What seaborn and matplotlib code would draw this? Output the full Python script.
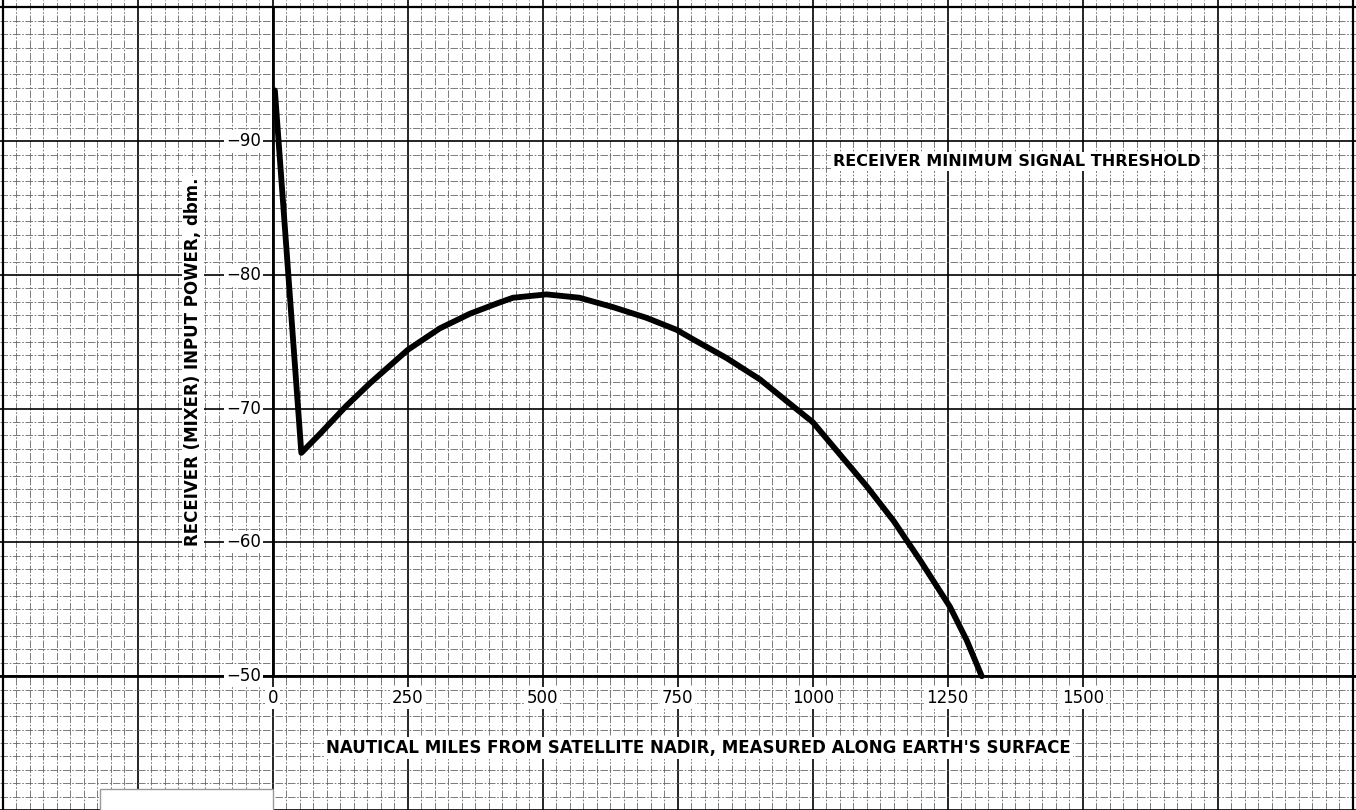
import numpy as np
import matplotlib
matplotlib.use("Agg")
import matplotlib.pyplot as plt
import seaborn as sns
from matplotlib.patches import Rectangle

# values
distance_nm = [4, 53, 87, 136, 180, 222, 250, 309, 365, 417, 445, 507, 568, 630,
               692, 748, 778, 840, 902, 963, 1000, 1050, 1100, 1150, 1200, 1254,
               1285, 1313]
power_dbm = [-93.8, -66.7, -68.1, -70.2, -71.9, -73.4, -74.4, -76.0, -77.1, -77.9,
             -78.3, -78.55, -78.3, -77.6, -76.8, -75.9, -75.2, -73.8, -72.2, -70.2,
             -69.0, -66.6, -64.2, -61.6, -58.6, -55.2, -52.7, -50.0]

x_ticks = [0, 250, 500, 750, 1000, 1250, 1500]
y_ticks = [-90, -80, -70, -60, -50]

threshold_label = "RECEIVER MINIMUM SIGNAL THRESHOLD"
x_label = "NAUTICAL MILES FROM SATELLITE NADIR, MEASURED ALONG EARTH'S SURFACE"
y_label = "RECEIVER (MIXER) INPUT POWER, dbm."

sns.set_style("white")
plt.rcParams['font.family'] = ['DejaVu Sans']

fig = plt.figure(figsize=(13.56, 8.10), dpi=100)
ax = fig.add_axes([0, 0, 1, 1])

# graph paper: full sheet, y axis runs downward
ax.set_xlim(-505, 2006)
ax.set_ylim(-40.33, -100.56)
ax.set_xticks(np.arange(-500, 2001, 250))
ax.set_xticks(np.arange(-500, 2001, 25), minor=True)
ax.set_yticks(np.arange(-100, -39, 10))
ax.set_yticks(np.arange(-100, -40, 1), minor=True)
ax.tick_params(which='both', length=0, labelbottom=False, labelleft=False)
ax.set_axisbelow(True)
ax.grid(which='minor', color='0.4', linewidth=0.6, linestyle=(0, (9, 2, 2, 2)))
ax.grid(which='major', color='black', linewidth=1.2)
for s in ax.spines.values():
    s.set_visible(False)

# sheet border
ax.axvline(-500, color='black', lw=1.6)
ax.axvline(2000, color='black', lw=1.6)
ax.axhline(-100, color='black', lw=1.6)

# axes of the plot
ax.plot([0, 0], [-100, -50], color='black', lw=2.0, zorder=2)
ax.axhline(-50, color='black', lw=2.0, zorder=2)

# small blank label box bottom left
ax.add_patch(Rectangle((-320, -41.6), 320, 2, facecolor='white',
                       edgecolor='0.6', lw=1, zorder=3))

sns.lineplot(x=distance_nm, y=power_dbm, ax=ax, color='black', linewidth=4.2,
             sort=False, estimator=None, zorder=5)
ax.lines[-1].set_solid_joinstyle('round')

box = dict(facecolor='white', edgecolor='none', pad=1.5)
for v in y_ticks:
    ax.text(-22, v, f"\u2212{abs(v)}", ha='right', va='center', fontsize=12,
            color='black', bbox=box, zorder=4)
for v in x_ticks:
    ax.text(v, -48.4, str(v), ha='center', va='center', fontsize=12,
            color='black', bbox=box, zorder=4)

ax.text(1037, -88.5, threshold_label, ha='left', va='center', fontsize=11.5,
        fontweight='bold', color='black', bbox=box, zorder=4)
ax.text(788, -44.6, x_label, ha='center', va='center', fontsize=12,
        fontweight='bold', color='black', bbox=box, zorder=4)
ax.text(-148, -73.5, y_label, ha='center', va='center', rotation=90, fontsize=12,
        fontweight='bold', color='black', bbox=box, zorder=4)

fig.savefig("out.png", dpi=100)
